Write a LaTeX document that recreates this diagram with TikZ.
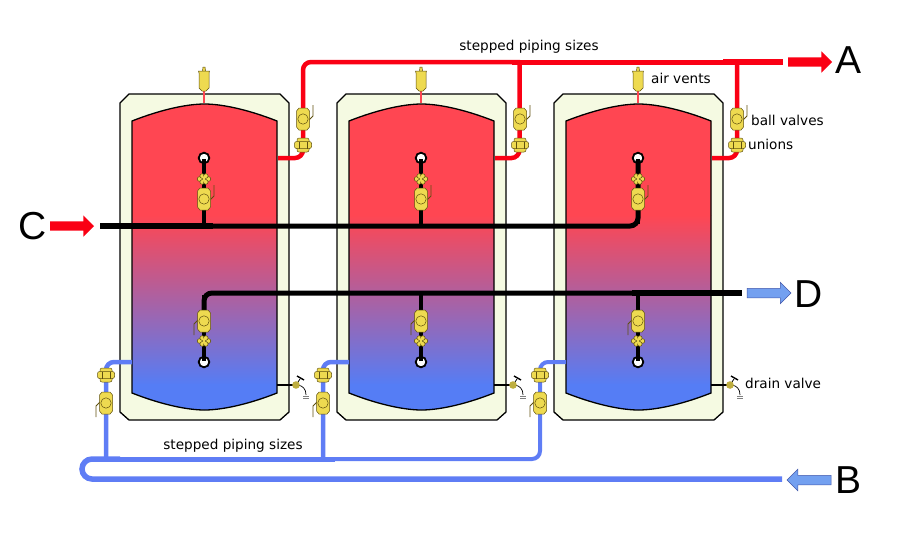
\documentclass[tikz,border=0pt]{standalone}
\usepackage{fontspec}
\setmainfont{DejaVu Sans}
\newfontfamily\bigfont{Liberation Sans}
\usetikzlibrary{shapes.arrows}

\definecolor{tankred}{RGB}{255,70,82}
\definecolor{tankblue}{RGB}{85,125,245}
\definecolor{tankcream}{RGB}{245,250,226}
\definecolor{pipered}{RGB}{250,0,20}
\definecolor{pipeblue}{RGB}{95,125,245}
\definecolor{arrowblue}{RGB}{115,160,240}
\definecolor{brass}{RGB}{238,218,80}
\definecolor{brassline}{RGB}{95,80,15}

\tikzset{
  redpipe/.style={draw=pipered,line width=4.5pt,rounded corners=8pt},
  bluepipe/.style={draw=pipeblue,line width=4.5pt,rounded corners=8pt},
  blackpipe/.style={draw=black,line width=5pt,rounded corners=8pt},
  brasspart/.style={fill=brass,draw=brassline,line width=0.5pt},
  bigarrow/.style={single arrow,minimum height=44pt,text height=9pt,text depth=0pt,
    single arrow head extend=6pt,single arrow head indent=0pt,inner sep=0pt,outer sep=0pt},
  lbl/.style={font=\fontsize{13.6}{16}\selectfont,inner sep=0pt},
  biglbl/.style={font=\bigfont\fontsize{39}{42}\selectfont,inner sep=0pt},
  ballvalve/.pic={
    \draw[brassline,line width=0.8pt] (6,1) -- (10,-3) -- (10,-14);
    \draw[brasspart] (-4,-11) -- (4,-11) -- (6.5,-8) -- (6.5,8) -- (4,11) -- (-4,11) -- (-6.5,8) -- (-6.5,-8) -- cycle;
    \draw[brasspart] (0,0) circle (5.2);
  },
  pipeunion/.pic={
    \draw[brasspart,rounded corners=2pt] (-6,-7) rectangle (6,7);
    \draw[brasspart,rounded corners=2pt] (-8.5,-3.5) rectangle (8.5,3.5);
    \draw[brassline,line width=0.5pt] (-4,-3.5) -- (-4,3.5) (4,-3.5) -- (4,3.5);
  },
  tubeunion/.pic={
    \foreach \a/\b in {-4.5/0,4.5/0,-1.8/-3,1.8/-3,-1.8/3,1.8/3}
      \draw[brasspart] (\a,\b) circle (2.3);
    \fill[brass] (0,0) circle (2.8);
    \fill[black] (-1.8,0) circle (0.7) (1.8,0) circle (0.7);
  },
  airvent/.pic={
    \draw[brasspart] (-1.5,-8) -- (-1,-12) -- (1,-12) -- (1.5,-8);
    \draw[brasspart] (-5.5,-8) -- (5.5,-8) -- (5,-6) -- (5,9) -- (2,12) -- (-2,12) -- (-5,9) -- (-5,-6) -- cycle;
  },
  drainvalve/.pic={
    \draw[black,line width=1.2pt] (-19,0) -- (-3,0);
    \draw[black,line width=0.8pt] (0,0) -- (4,-6);
    \draw[black,line width=1.4pt] (1,-9) -- (8,-5);
    \draw[black,line width=0.7pt] (2,0) .. controls (7,1) and (10,4) .. (10,10);
    \draw[gray,line width=0.8pt] (7,11) -- (13,11) (7,13) -- (13,13);
    \fill[brass!80!black] (0,0) circle (3.8);
  }
}

\begin{document}
\begin{tikzpicture}[x=1pt,y=-1pt]
  \useasboundingbox (0,0) rectangle (900,550);

  % tanks
  \foreach \dx in {0,217,434} {
    \draw[fill=tankcream,line width=1.3pt] (129+\dx,94) -- (280+\dx,94) -- (289+\dx,103)
      -- (289+\dx,412) -- (280+\dx,420) -- (129+\dx,420) -- (120+\dx,412) -- (120+\dx,103) -- cycle;
    \begin{scope}
      \clip (132+\dx,121) .. controls (165+\dx,108) and (190+\dx,104) .. (204.5+\dx,104)
        .. controls (219+\dx,104) and (244+\dx,108) .. (277+\dx,121) -- (277+\dx,393)
        .. controls (244+\dx,406) and (219+\dx,410) .. (204.5+\dx,410)
        .. controls (190+\dx,410) and (165+\dx,406) .. (132+\dx,393) -- cycle;
      \fill[tankred] (130+\dx,100) rectangle (280+\dx,216);
      \shade[top color=tankred,bottom color=tankblue] (130+\dx,215) rectangle (280+\dx,385);
      \fill[tankblue] (130+\dx,384) rectangle (280+\dx,412);
    \end{scope}
    \draw[line width=1.3pt] (132+\dx,121) .. controls (165+\dx,108) and (190+\dx,104) .. (204.5+\dx,104)
      .. controls (219+\dx,104) and (244+\dx,108) .. (277+\dx,121) -- (277+\dx,393)
      .. controls (244+\dx,406) and (219+\dx,410) .. (204.5+\dx,410)
      .. controls (190+\dx,410) and (165+\dx,406) .. (132+\dx,393) -- cycle;
    \draw[tankred,line width=2.5pt] (204+\dx,90) -- (204+\dx,103);
    \pic at (204+\dx,79) {airvent};
    \pic at (296+\dx,385) {drainvalve};
  }

  % hot side
  \draw[redpipe] (278,158) -- (303,158) -- (303,62) -- (520,62);
  \draw[redpipe] (495,158) -- (519.5,158) -- (519.5,62);
  \draw[redpipe,line width=5pt] (512,62) -- (737,62);
  \draw[redpipe] (712,158) -- (737,158) -- (737,62);
  \draw[redpipe,line width=6.7pt] (723,62) -- (783,62);

  % cold side
  \draw[bluepipe] (132,362) -- (106,362) -- (106,459);
  \draw[bluepipe] (349,362) -- (323,362) -- (323,459);
  \draw[bluepipe,line width=4pt] (566,362) -- (540,362) -- (540,459) -- (325,459);
  \draw[bluepipe,line width=5pt] (335,459) -- (110,459);
  \draw[bluepipe,line width=5.5pt,rounded corners=10pt] (120,459) -- (82,459) -- (82,479) -- (782,479);

  % dip tubes
  \foreach \dx in {0,217,434} {
    \draw[fill=white,line width=1.8pt] (204+\dx,158) circle (5.3);
    \draw[fill=white,line width=1.8pt] (204+\dx,362) circle (5.3);
    \draw[black,line width=4pt] (204+\dx,159) -- (204+\dx,224);
    \draw[black,line width=4pt] (204+\dx,295) -- (204+\dx,361);
  }
  \draw[blackpipe,line width=6pt] (100,226) -- (213,226);
  \draw[blackpipe] (205,226) -- (638,226) -- (638,160);
  \draw[blackpipe] (204,310) -- (204,293) -- (640,293);
  \draw[blackpipe,line width=6pt] (632,293) -- (742,293);

  % fittings
  \foreach \dx in {0,217,434} {
    \pic at (303+\dx,119) {ballvalve};
    \pic at (303+\dx,145) {pipeunion};
    \pic at (204+\dx,199) {ballvalve};
    \pic at (204+\dx,179) {tubeunion};
    \pic[rotate=180] at (204+\dx,321) {ballvalve};
    \pic at (204+\dx,341) {tubeunion};
    \pic[rotate=180] at (106+\dx,403) {ballvalve};
    \pic at (106+\dx,375) {pipeunion};
  }

  % flow arrows
  \node[bigarrow,fill=pipered,anchor=tip] (arrA) at (832,62) {};
  \node[bigarrow,fill=pipered,anchor=tip] (arrC) at (94,226) {};
  \node[bigarrow,fill=arrowblue,draw=pipeblue!70!black,line width=0.5pt,anchor=tip] (arrD) at (791,293) {};
  \node[bigarrow,fill=arrowblue,draw=pipeblue!70!black,line width=0.5pt,shape border rotate=180,anchor=tip] (arrB) at (787,480) {};

  \node[biglbl] (letA) at (848,60) {A};
  \node[biglbl] (letB) at (848,480) {B};
  \node[biglbl] (letC) at (33,226) {C};
  \node[biglbl] (letD) at (809,294) {D};

  \node[lbl] (lblpipetop) at (529,47) {stepped piping sizes};
  \node[lbl] (lblpipelow) at (233,446) {stepped piping sizes};
  \node[lbl,anchor=west] (lblvents) at (651,78) {air vents};
  \node[lbl,anchor=west] (lblballs) at (751,120) {ball valves};
  \node[lbl,anchor=west] (lblunions) at (748,144) {unions};
  \node[lbl,anchor=west] (lbldrain) at (745,383) {drain valve};
\end{tikzpicture}
\end{document}
